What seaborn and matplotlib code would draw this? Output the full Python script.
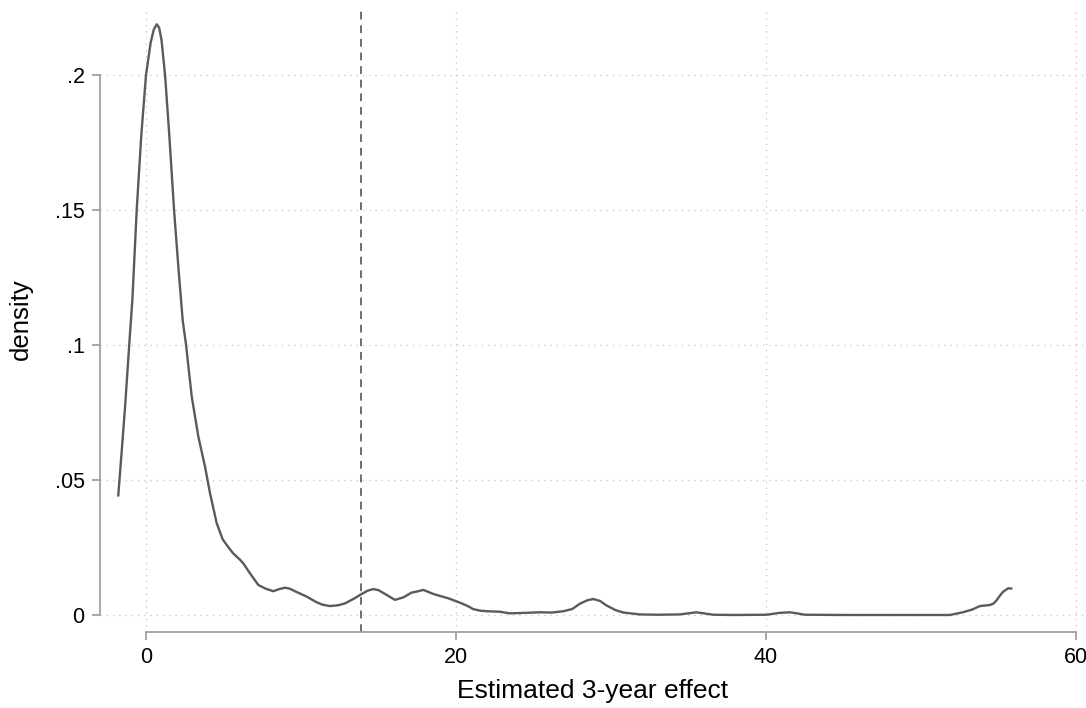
import numpy as np
import pandas as pd
import matplotlib
matplotlib.use("Agg")
import matplotlib.pyplot as plt
import seaborn as sns

# density curve (x = estimated 3-year effect)
effect = [-1.79, -1.55, -1.35, -1.08, -0.88, -0.6, -0.3, 0.0, 0.3, 0.5, 0.69,
          0.85, 1.0, 1.23, 1.5, 1.81, 2.1, 2.37, 2.58, 2.95, 3.38, 3.81, 4.13,
          4.56, 4.95, 5.3, 5.63, 6.06, 6.28, 6.7, 7.25, 7.7, 8.21, 8.6, 8.97,
          9.3, 9.61, 10.37, 11.01, 11.4, 11.87, 12.4, 12.84, 13.4, 13.92,
          14.3, 14.67, 15.0, 15.42, 16.06, 16.6, 17.14, 17.5, 17.89, 18.54,
          19.0, 19.5, 20.37, 20.8, 21.1, 21.55, 21.98, 22.84, 23.48, 24.5,
          25.4, 26.2, 26.92, 27.5, 28.0, 28.5, 28.86, 29.3, 29.72, 30.3, 30.8,
          31.87, 33.0, 34.4, 35.0, 35.5, 36.0, 36.6, 38.0, 40.04, 40.9, 41.55,
          42.0, 42.5, 45.0, 48.0, 51.87, 52.7, 53.3, 53.8, 54.45, 54.7, 54.9,
          55.1, 55.3, 55.63, 55.85]
density = [0.0442, 0.062, 0.0771, 0.1003, 0.1167, 0.15, 0.178, 0.2, 0.212,
           0.2168, 0.2188, 0.2175, 0.213, 0.2, 0.178, 0.15, 0.128, 0.109,
           0.1003, 0.0809, 0.066, 0.0549, 0.0451, 0.034, 0.028, 0.0252, 0.0228,
           0.0205, 0.0191, 0.0155, 0.0111, 0.0098, 0.0088, 0.0096, 0.0101,
           0.0097, 0.0088, 0.0068, 0.0047, 0.0038, 0.0033, 0.0036, 0.0043,
           0.006, 0.0078, 0.009, 0.0096, 0.0092, 0.0078, 0.0056, 0.0065,
           0.0083, 0.0087, 0.0093, 0.0078, 0.007, 0.0062, 0.0043, 0.0032,
           0.0022, 0.0016, 0.0014, 0.0012, 0.0006, 0.0008, 0.001, 0.0009,
           0.0014, 0.0022, 0.0042, 0.0055, 0.0059, 0.0052, 0.0035, 0.0018,
           0.0009, 0.0002, 0.0001, 0.0002, 0.0006, 0.001, 0.0006, 0.0001, 0.0,
           0.0001, 0.0008, 0.001, 0.0006, 0.0001, 0.0, 0.0, 0.0, 0.001, 0.002,
           0.0033, 0.0037, 0.0043, 0.0056, 0.0072, 0.0086, 0.0099, 0.0098]
mean_effect = 13.9

x_ticks = [0, 20, 40, 60]
x_labels = ["0", "20", "40", "60"]
y_ticks = [0, 0.05, 0.1, 0.15, 0.2]
y_labels = ["0", ".05", ".1", ".15", ".2"]

df = pd.DataFrame({"effect": effect, "density": density})

sns.set_theme(style="white")
plt.rcParams["font.family"] = ["Liberation Sans", "DejaVu Sans"]

fig = plt.figure(figsize=(10.86, 7.08), dpi=100)
ax = fig.add_axes([100 / 1086, 1 - 632 / 708, 1 - 100 / 1086, (632 - 7) / 708])

sns.lineplot(data=df, x="effect", y="density", sort=False, color="#5a5a5a",
             linewidth=1.7, ax=ax)
ax.axvline(mean_effect, color="#6e6e6e", linestyle=(0, (4, 3)), linewidth=1.4)

ax.set_xlim(-2.968, 60.65)
ax.set_ylim(-0.0063, 0.2252)
ax.set_xticks(x_ticks)
ax.set_xticklabels(x_labels)
ax.set_yticks(y_ticks)
ax.set_yticklabels(y_labels)

ax.grid(True, color="#c4c4c4", linestyle=(0, (1, 4)), linewidth=0.9)
ax.set_axisbelow(True)

for side in ["top", "right"]:
    ax.spines[side].set_visible(False)
ax.spines["left"].set_bounds(0, 0.2)
ax.spines["bottom"].set_bounds(0, 60)
for side in ["left", "bottom"]:
    ax.spines[side].set_color("#a0a0a0")
    ax.spines[side].set_linewidth(1.3)
ax.tick_params(axis="both", which="major", direction="out", length=6,
               width=1.3, color="#a0a0a0", labelsize=15.5, labelcolor="black",
               bottom=True, left=True, pad=5)

ax.set_xlabel("Estimated 3-year effect", fontsize=19, labelpad=8, color="black")
ax.set_ylabel("density", fontsize=18.5, labelpad=16, color="black")

fig.savefig("out.png", dpi=100)
